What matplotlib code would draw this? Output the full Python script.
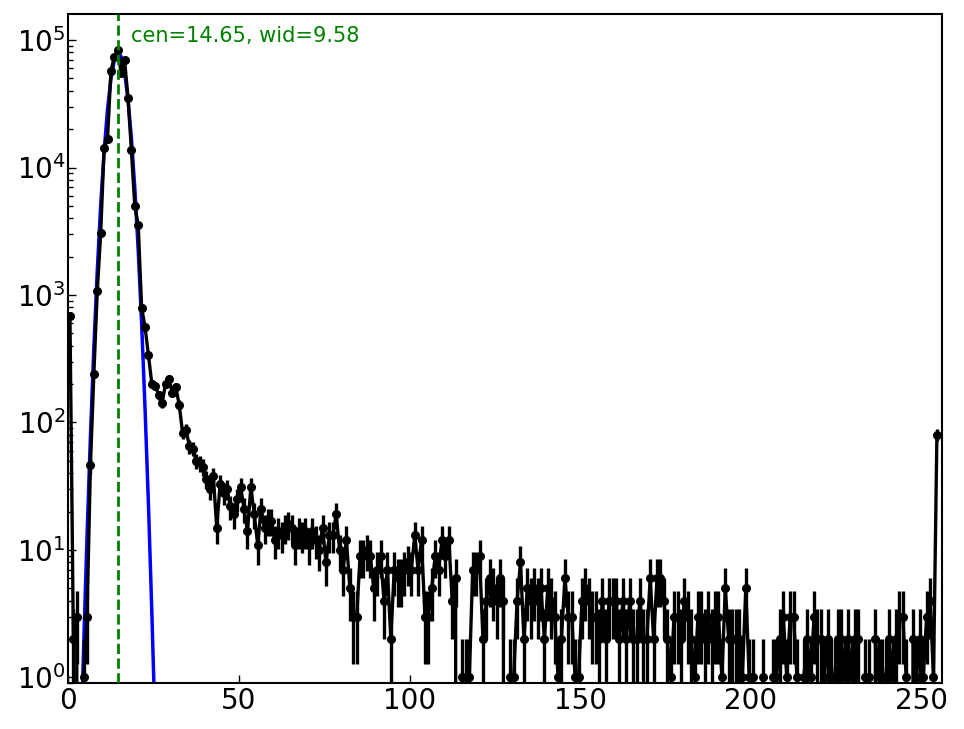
import matplotlib
matplotlib.use("Agg")
import matplotlib.pyplot as plt
import matplotlib.transforms as mtransforms
import numpy as np

# histogram counts, one per bin (bin centres at i+0.5)
counts = [
    680, 2, 3, 0, 1, 3, 46, 239, 1070, 3040,
    14100, 16700, 56900, 73800, 83200, 55600, 69500, 35400, 13700, 4970,
    3520, 793, 562, 337, 200, 194, 164, 143, 200, 219,
    171, 190, 138, 83, 88, 65, 62, 50, 48, 45,
    36, 30, 38, 15, 33, 28, 30, 22, 19, 25,
    31, 21, 14, 31, 19, 11, 21, 15, 17, 17,
    12, 14, 13, 15, 16, 15, 11, 14, 13, 14,
    11, 14, 12, 10, 15, 8, 13, 13, 19, 10,
    7, 12, 5, 3, 3, 9, 9, 10, 9, 5,
    7, 9, 4, 7, 2, 7, 6, 6, 7, 8,
    7, 13, 7, 12, 3, 3, 5, 9, 7, 12,
    9, 12, 4, 6, 0, 1, 1, 1, 7, 7,
    9, 2, 4, 6, 5, 4, 6, 4, 0, 1,
    1, 4, 8, 2, 5, 4, 5, 4, 5, 2,
    5, 4, 3, 1, 2, 6, 3, 3, 1, 1,
    4, 5, 4, 3, 3, 2, 4, 2, 4, 4,
    4, 2, 4, 2, 4, 2, 2, 4, 2, 2,
    6, 2, 6, 6, 4, 2, 1, 3, 3, 2,
    4, 3, 2, 1, 3, 3, 2, 3, 2, 3,
    3, 1, 5, 2, 2, 2, 2, 1, 5, 1,
    1, 0, 0, 1, 0, 0, 1, 1, 2, 3,
    1, 3, 3, 1, 0, 1, 2, 1, 3, 2,
    2, 1, 2, 1, 1, 2, 2, 1, 2, 1,
    2, 2, 0, 1, 1, 0, 2, 1, 1, 1,
    2, 1, 2, 3, 3, 1, 0, 2, 1, 2,
    1, 3, 4, 1, 80,
]

# gaussian fit parameters: amp*exp(-(x-cen)^2/wid)
fit_amp = 8.0e4
fit_cen = 14.65
fit_wid = 9.58

counts = np.array(counts, dtype=float)
x = np.arange(len(counts)) + 0.5
err = np.sqrt(counts)
fit = fit_amp * np.exp(-(x - fit_cen) ** 2 / fit_wid)

fig = plt.figure(figsize=(9.64, 7.29), dpi=100)
ax = fig.add_axes([0.0708, 0.0627, 0.9064, 0.9181])

ax.plot(x, fit, color='blue', lw=2.5, zorder=2)
ax.errorbar(x, counts, yerr=err, fmt='o-', color='black', lw=2.4,
            elinewidth=2.4, ms=5.5, capsize=0, zorder=3)
ax.axvline(fit_cen, color='green', ls='--', lw=2, zorder=4)

trans = mtransforms.blended_transform_factory(ax.transData, ax.transAxes)
ax.text(fit_cen + 3.7, 0.967, 'cen=%.2f, wid=%.2f' % (fit_cen, fit_wid),
        color='green', fontsize=15, va='center', ha='left', transform=trans)

ax.set_yscale('log')
ax.set_xlim(0, 256)
ax.set_ylim(0.9, 1.6e5)
ax.set_xticks([0, 50, 100, 150, 200, 250])

ax.tick_params(which='both', direction='in', top=False, right=False,
               labelsize=20)
ax.tick_params(which='major', length=6, width=1, pad=3)
ax.tick_params(which='minor', length=3.5, width=1)
ax.tick_params(axis='y', which='major', pad=2)
for s in ax.spines.values():
    s.set_linewidth(1.5)

fig.savefig('out.png', dpi=100)
